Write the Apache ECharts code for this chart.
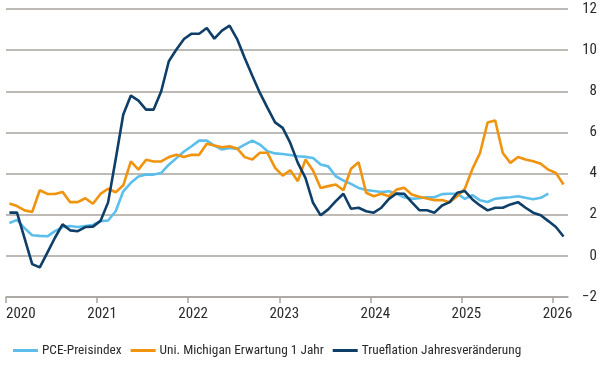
<!DOCTYPE html>
<html>
<head>
<meta charset="utf-8">
<script src="https://cdn.jsdelivr.net/npm/echarts@6/dist/echarts.min.js"></script>
<style>html,body{margin:0;padding:0;background:#fff}#c{width:600px;height:380px}</style>
</head>
<body>
<div id="c"></div>
<script>
// Monthly values starting January 2020
const startYear = 2020;
const yearTicks = [2020, 2021, 2022, 2023, 2024, 2025, 2026];
const seriesNames = ['PCE-Preisindex', 'Uni. Michigan Erwartung 1 Jahr', 'Trueflation Jahresveränderung'];
const pce = [1.6,1.75,1.35,1.0,0.97,0.95,1.2,1.4,1.45,1.4,1.45,1.5,
  1.69,1.72,2.17,3.14,3.55,3.86,3.95,3.95,4.03,4.43,4.75,5.07,
  5.33,5.6,5.6,5.36,5.17,5.25,5.2,5.41,5.6,5.41,5.09,4.98,
  4.95,4.9,4.84,4.81,4.76,4.44,4.35,3.87,3.66,3.5,3.3,3.2,
  3.15,3.1,3.14,3.02,2.85,2.77,2.8,2.85,2.85,3.0,3.02,3.02,
  2.77,2.95,2.7,2.62,2.78,2.82,2.85,2.9,2.82,2.75,2.82,3.02];
const michigan = [2.55,2.42,2.21,2.13,3.19,3.01,3.01,3.11,2.61,2.61,2.8,2.53,
  3.01,3.26,3.09,3.43,4.59,4.19,4.67,4.59,4.59,4.8,4.91,4.8,
  4.91,4.91,5.45,5.36,5.28,5.33,5.22,4.8,4.68,5.01,5.01,4.28,
  3.9,4.16,3.63,4.68,4.15,3.3,3.39,3.47,3.19,4.23,4.55,3.07,
  2.9,3.02,2.9,3.22,3.31,2.98,2.87,2.79,2.71,2.71,2.61,2.9,
  3.26,4.23,5.0,6.48,6.58,5.0,4.52,4.81,4.68,4.6,4.48,4.19,
  4.03,3.47];
const trueflation = [2.1,2.1,0.85,-0.4,-0.56,0.16,0.88,1.53,1.24,1.2,1.4,1.42,
  1.7,2.6,4.7,6.87,7.79,7.55,7.11,7.11,8.0,9.46,10.03,10.54,
  10.8,10.8,11.08,10.56,10.95,11.19,10.54,9.62,8.76,7.92,7.19,6.49,
  6.22,5.49,4.52,3.79,2.58,1.97,2.26,2.66,3.02,2.29,2.34,2.17,
  2.1,2.34,2.77,3.03,3.02,2.61,2.22,2.22,2.1,2.45,2.61,3.07,
  3.15,2.74,2.45,2.21,2.34,2.34,2.5,2.61,2.34,2.1,1.97,1.69,
  1.4,0.94];

function toPairs(arr){ return arr.map((v,i)=>[startYear + (i+0.45)/12, v]); }

const font = '"Roboto Condensed", "Liberation Sans", sans-serif';
const txt = '#2b2b2b';
const grid = '#a8a49e';
const chart = echarts.init(document.getElementById('c'), null, {renderer:'canvas'});
chart.setOption({
  animation:false,
  backgroundColor:'#fff',
  grid:{left:6, right:32, top:9, bottom:83},
  legend:{
    left:8, top:339, itemWidth:25, itemHeight:3, itemGap:9,
    icon:'rect',
    textStyle:{fontFamily:font, fontSize:13.3, color:txt, padding:[0,0,0,-1]},
    data:seriesNames
  },
  xAxis:{
    type:'value', min:2020, max:2026.17, interval:1,
    axisLine:{show:true, onZero:false, lineStyle:{color:grid, width:1.5}},
    axisTick:{show:true, length:6, lineStyle:{color:grid, width:1.5}},
    splitLine:{show:false},
    axisLabel:{
      fontFamily:font, fontSize:15, color:txt, margin:10,
      showMaxLabel:false, alignMinLabel:'left',
      formatter:function(v){ return yearTicks.indexOf(Math.round(v))>=0 && Math.abs(v-Math.round(v))<1e-6 ? (v===2020?'{f|'+v+'}':'{n|'+v+'}') : ''; },
      rich:{n:{padding:[0,0,0,10], fontFamily:font, fontSize:15, color:txt}, f:{fontFamily:font, fontSize:15, color:txt}}
    }
  },
  yAxis:{
    type:'value', position:'right', min:-2, max:12, interval:2,
    axisLine:{show:false}, axisTick:{show:false},
    splitLine:{lineStyle:{color:grid, width:1.5}},
    axisLabel:{fontFamily:font, fontSize:15, color:txt, align:'right', margin:29,
      formatter:function(v){ return v<0 ? '\u2212'+Math.abs(v) : String(v); }}
  },
  series:[
    {name:seriesNames[0], type:'line', data:toPairs(pce), showSymbol:false, symbol:'none',
     lineStyle:{color:'#5cbfeb', width:2.6}, itemStyle:{color:'#5cbfeb'}},
    {name:seriesNames[1], type:'line', data:toPairs(michigan), showSymbol:false, symbol:'none',
     lineStyle:{color:'#f0930f', width:2.6}, itemStyle:{color:'#f0930f'}},
    {name:seriesNames[2], type:'line', data:toPairs(trueflation), showSymbol:false, symbol:'none',
     lineStyle:{color:'#0f3e68', width:2.6}, itemStyle:{color:'#0f3e68'}}
  ]
});
</script>
</body>
</html>
